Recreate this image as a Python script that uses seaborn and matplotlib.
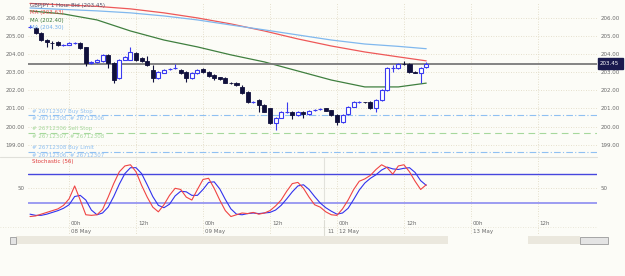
import numpy as np
import pandas as pd
import seaborn as sns
import matplotlib.pyplot as plt
from matplotlib.patches import Rectangle

W, H = 625, 276

# hourly candles, index 0 = 07 May 17h
opens = [205.48, 205.45, 205.17, 204.80, 204.63, 204.66, 204.50, 204.52, 204.62, 204.60,
         204.38, 203.52, 203.55, 203.60, 203.95, 203.50, 202.70, 203.70, 203.70, 204.05,
         203.80, 203.60, 203.12, 202.70, 202.98, 203.16, 203.22, 203.12, 203.00, 202.70,
         202.95, 203.20, 203.02, 202.85, 202.72, 202.68, 202.42, 202.42, 202.20, 201.90,
         201.36, 201.47, 201.20, 201.00, 200.20, 200.50, 200.80, 200.82, 200.65, 200.82,
         200.70, 200.90, 200.95, 201.00, 200.90, 200.65, 200.26, 200.68, 201.10, 201.35,
         201.34, 201.35, 201.03, 201.47, 202.02, 203.24, 203.25, 203.47, 203.47, 203.03,
         202.98, 203.28]
closes = [205.52, 205.17, 204.79, 204.68, 204.62, 204.50, 204.52, 204.62, 204.63, 204.35,
          203.52, 203.55, 203.70, 203.95, 203.52, 202.58, 203.68, 203.85, 204.10, 203.68,
          203.60, 203.40, 202.70, 203.00, 203.12, 203.20, 203.25, 202.97, 202.70, 202.97,
          203.15, 203.02, 202.80, 202.70, 202.63, 202.42, 202.40, 202.30, 201.86, 201.36,
          201.38, 201.20, 200.82, 200.20, 200.48, 200.80, 200.82, 200.65, 200.80, 200.68,
          200.87, 200.92, 200.97, 200.87, 200.65, 200.26, 200.65, 201.08, 201.35, 201.36,
          201.33, 201.03, 201.47, 202.02, 203.24, 203.26, 203.47, 203.46, 203.02, 202.98,
          203.25, 203.45]
highs = [205.60, 205.50, 205.22, 204.86, 204.70, 204.70, 204.56, 204.66, 204.68, 204.66,
         204.42, 203.60, 203.75, 204.00, 204.00, 203.55, 203.72, 203.90, 204.40, 204.10,
         203.85, 203.90, 203.40, 203.05, 203.18, 203.24, 203.45, 203.18, 203.05, 203.00,
         203.20, 203.25, 203.06, 202.90, 202.76, 202.72, 202.46, 202.46, 202.30, 201.95,
         201.42, 201.52, 201.25, 201.05, 200.52, 200.85, 201.35, 200.86, 200.84, 200.86,
         200.90, 200.96, 201.02, 201.04, 200.94, 200.70, 200.70, 201.12, 201.40, 201.40,
         201.38, 201.40, 201.52, 202.08, 203.30, 203.40, 203.52, 203.62, 203.50, 203.06,
         203.30, 203.55]
lows = [205.42, 205.10, 204.72, 204.38, 204.30, 204.44, 204.47, 204.48, 204.58, 204.30,
        203.35, 203.48, 203.50, 203.55, 203.25, 202.40, 202.62, 203.65, 203.65, 203.60,
        203.55, 203.35, 202.45, 202.65, 202.95, 203.12, 203.18, 202.92, 202.45, 202.65,
        202.92, 202.98, 202.76, 202.57, 202.60, 202.38, 202.36, 202.26, 201.80, 201.30,
        201.32, 200.80, 200.78, 200.15, 199.82, 200.45, 200.76, 200.40, 200.60, 200.50,
        200.66, 200.86, 200.90, 200.84, 200.60, 200.10, 200.22, 200.64, 201.06, 201.32,
        201.30, 200.98, 200.80, 201.42, 201.98, 203.00, 203.20, 203.40, 202.98, 202.94,
        202.40, 203.22]

# moving averages read at every 6th candle
ma_idx = [0, 6, 12, 18, 24, 30, 36, 42, 48, 54, 60, 66, 71]
ma_red = [206.80, 206.72, 206.64, 206.50, 206.28, 206.00, 205.67, 205.28, 204.84, 204.45,
          204.12, 203.85, 203.63]
ma_blue = [206.55, 206.47, 206.39, 206.28, 206.11, 205.89, 205.61, 205.34, 205.06, 204.78,
           204.56, 204.43, 204.30]
ma_green = [206.39, 206.22, 205.89, 205.28, 204.78, 204.40, 203.96, 203.57, 203.07, 202.57,
            202.19, 202.19, 202.40]

# stochastic %K (red) and %D (blue)
stoch_k = [2, 3, 6, 9, 12, 15, 21, 32, 54, 30, 5, 4, 5, 14, 35, 58, 78, 88, 90, 78,
           55, 35, 18, 10, 22, 38, 50, 48, 35, 30, 48, 65, 67, 50, 30, 12, 2, 5, 8, 7,
           9, 6, 8, 12, 20, 30, 45, 58, 60, 50, 35, 22, 18, 10, 5, 4, 15, 30, 48, 62,
           66, 72, 82, 90, 85, 74, 88, 90, 78, 62, 48, 56]
stoch_d = [6, 4, 4, 6, 9, 12, 16, 22, 36, 38, 30, 13, 5, 8, 18, 36, 57, 75, 85, 85,
           75, 56, 36, 21, 17, 23, 37, 45, 44, 38, 38, 48, 60, 61, 49, 31, 15, 6, 5, 7,
           8, 7, 8, 9, 13, 21, 32, 44, 54, 56, 48, 36, 25, 17, 11, 6, 8, 16, 31, 47,
           59, 67, 73, 81, 86, 83, 82, 84, 85, 77, 63, 55]

price_ticks = [199, 200, 201, 202, 203, 204, 205, 206]
hour_idx = [7, 19, 31, 43, 55, 67, 79, 91]
hour_labels = ['00h', '12h', '00h', '12h', '00h', '12h', '00h', '12h']
day_idx = [7, 31, 53, 55, 79]
day_labels = ['08 May', '09 May', '11', '12 May', '13 May']
last_price = 203.45

order_prices = [200.64, 199.66, 198.62]
order_top = ['# 26712307 Buy Stop', '# 26712306 Sell Stop', '# 26712308 Buy Limit']
order_bottom = ['# 26712308, # 26712306', '# 26712307, # 26712308', '# 26712306, # 26712307']
order_colors = ['#8fc0f2', '#a6d89c', '#8fc0f2']
order_styles = [(0, (6, 2, 1, 2)), (0, (6, 4)), (0, (6, 2, 1, 2))]

legend_texts = ['GBPJPY 1 Hour Bid (203.45)', 'MA (203.63)', 'MA (202.40)', 'MA (204.30)']
legend_colors = ['#50506a', '#e85050', '#3c7a3c', '#70aeea']

sns.set_theme(style='white')
plt.rcParams['font.family'] = ['DejaVu Sans']
FS = 4.0
BG = '#fcfcf7'
GRID = '#ddd6bf'
BLUE = '#3a3af0'
NAVY = '#10103c'


def fx(x):
    return x / W


def fy(y):
    return 1 - y / H


fig = plt.figure(figsize=(W / 100, H / 100), dpi=100, facecolor=BG)
ax1 = fig.add_axes([fx(28), fy(157), fx(597 - 28), 155 / H])
ax2 = fig.add_axes([fx(28), fy(219), fx(597 - 28), 61 / H])
for ax in (ax1, ax2):
    ax.set_facecolor(BG)
    for s in ax.spines.values():
        s.set_visible(False)
    ax.set_xlim(-0.36, 101.6)
    ax.set_xticks([])
    ax.tick_params(axis='y', length=0, labelsize=FS, labelcolor='#6a6a6a',
                   labelleft=True, labelright=True, pad=2.5)
    for i in hour_idx:
        ax.axvline(i, color=GRID, lw=0.6, ls=(0, (1, 2)), zorder=0)

# price panel
ax1.set_ylim(198.32, 206.88)
ax1.set_yticks(price_ticks)
ax1.set_yticklabels(['%.2f' % p for p in price_ticks])
for p in price_ticks:
    ax1.axhline(p, color=GRID, lw=0.6, ls=(0, (1, 2)), zorder=0)

for p, t1, t2, c, ls in zip(order_prices, order_top, order_bottom, order_colors, order_styles):
    ax1.axhline(p, color=c, lw=0.8, ls=ls, zorder=1)
    ax1.text(0.3, p + 0.07, t1, color=c, fontsize=FS, va='bottom', clip_on=True)
    ax1.text(0.3, p - 0.07, t2, color=c, fontsize=FS, va='top', clip_on=True)

sns.lineplot(x=ma_idx, y=ma_red, ax=ax1, color='#ee5858', lw=0.9, zorder=2)
sns.lineplot(x=ma_idx, y=ma_blue, ax=ax1, color='#80b8ee', lw=0.9, zorder=2)
sns.lineplot(x=ma_idx, y=ma_green, ax=ax1, color='#3f7f3f', lw=0.9, zorder=2)

ax1.axhline(last_price, color='#7a7a7a', lw=1.3, zorder=2)

df = pd.DataFrame({'open': opens, 'close': closes, 'high': highs, 'low': lows})
df['i'] = np.arange(len(df))
up = df['close'] >= df['open']
body_lo = df[['open', 'close']].min(axis=1)
body_h = (df['close'] - df['open']).abs().clip(lower=0.015)
ax1.vlines(df['i'][up], df['low'][up], df['high'][up], color=BLUE, lw=0.8, zorder=3)
ax1.vlines(df['i'][~up], df['low'][~up], df['high'][~up], color=NAVY, lw=0.8, zorder=3)
ax1.bar(df['i'][up], body_h[up], bottom=body_lo[up], width=0.72, color='white',
        edgecolor=BLUE, lw=0.8, zorder=4)
ax1.bar(df['i'][~up], body_h[~up], bottom=body_lo[~up], width=0.72, color=NAVY,
        edgecolor=NAVY, lw=0.6, zorder=4)
ax1.set_xlabel('')
ax1.set_ylabel('')

for k, (t, c) in enumerate(zip(legend_texts, legend_colors)):
    fig.text(fx(30), fy(5 + 7.6 * k), t, color=c, fontsize=FS, va='center')

# last price tag
fig.patches.append(Rectangle((fx(598), fy(68.5)), fx(25), 10 / H, transform=fig.transFigure,
                             facecolor='#1a1a4e', edgecolor='#1a1a4e'))
fig.text(fx(600), fy(63.5), '%.2f' % last_price, color='white', fontsize=FS, va='center')

# stochastic panel
ax2.set_ylim(-2.2, 101.5)
ax2.set_yticks([50])
ax2.set_yticklabels(['50'])
ax2.axhline(50, color=GRID, lw=0.6, ls=(0, (1, 2)), zorder=0)
ax2.axhline(75, color='#4646de', lw=1.0, zorder=1)
ax2.axhline(25, color='#8c8cf0', lw=1.2, zorder=1)
ax2.axvline(52.7, color='#e2e2dc', lw=0.8, zorder=0)
sns.lineplot(x=np.arange(len(stoch_d)), y=stoch_d, ax=ax2, color='#3232ee', lw=0.8, zorder=3)
sns.lineplot(x=np.arange(len(stoch_k)), y=stoch_k, ax=ax2, color='#f04444', lw=0.8, zorder=3)
ax2.text(0.3, 95, 'Stochastic (56)', color='#e03c3c', fontsize=FS, va='center')

# time labels
trans = ax2.get_xaxis_transform()
for i, t in zip(hour_idx, hour_labels):
    ax2.text(i + 0.35, -0.07, t, transform=trans, fontsize=FS, color='#6a6a6a',
             va='center', clip_on=False)
for i, t in zip(day_idx, day_labels):
    ax2.text(i + 0.35, -0.21, t, transform=trans, fontsize=FS, color='#6a6a6a',
             va='center', clip_on=False)
for i in hour_idx:
    ax2.plot([i, i], [-0.02, -0.27], transform=trans, color=GRID, lw=0.6,
             ls=(0, (1, 2)), clip_on=False)
ax2.plot([52.7, 52.7], [-0.02, -0.27], transform=trans, color='#dcdcd4', lw=0.8, clip_on=False)

# separators and scrollbar
fig.lines.append(plt.Line2D([0, fx(597)], [fy(157), fy(157)], transform=fig.transFigure,
                            color='#e0e0da', lw=0.8))
fig.lines.append(plt.Line2D([0, fx(597)], [fy(227), fy(227)], transform=fig.transFigure,
                            color='#e4e0d0', lw=0.6, ls=(0, (1, 2))))
fig.patches.append(Rectangle((fx(16), fy(244)), fx(432), 8 / H, transform=fig.transFigure,
                             facecolor='#ebe8de', edgecolor='none'))
fig.patches.append(Rectangle((fx(528), fy(244)), fx(52), 8 / H, transform=fig.transFigure,
                             facecolor='#ebe8de', edgecolor='none'))
fig.patches.append(Rectangle((fx(580), fy(244)), fx(28), 7 / H, transform=fig.transFigure,
                             facecolor='#e4e4e4', edgecolor='#9a9a9a', lw=0.6))
fig.patches.append(Rectangle((fx(10), fy(244)), fx(6), 7 / H, transform=fig.transFigure,
                             facecolor='#e4e4e4', edgecolor='#9a9a9a', lw=0.6))

fig.savefig('out.png', dpi=100, facecolor=BG)
